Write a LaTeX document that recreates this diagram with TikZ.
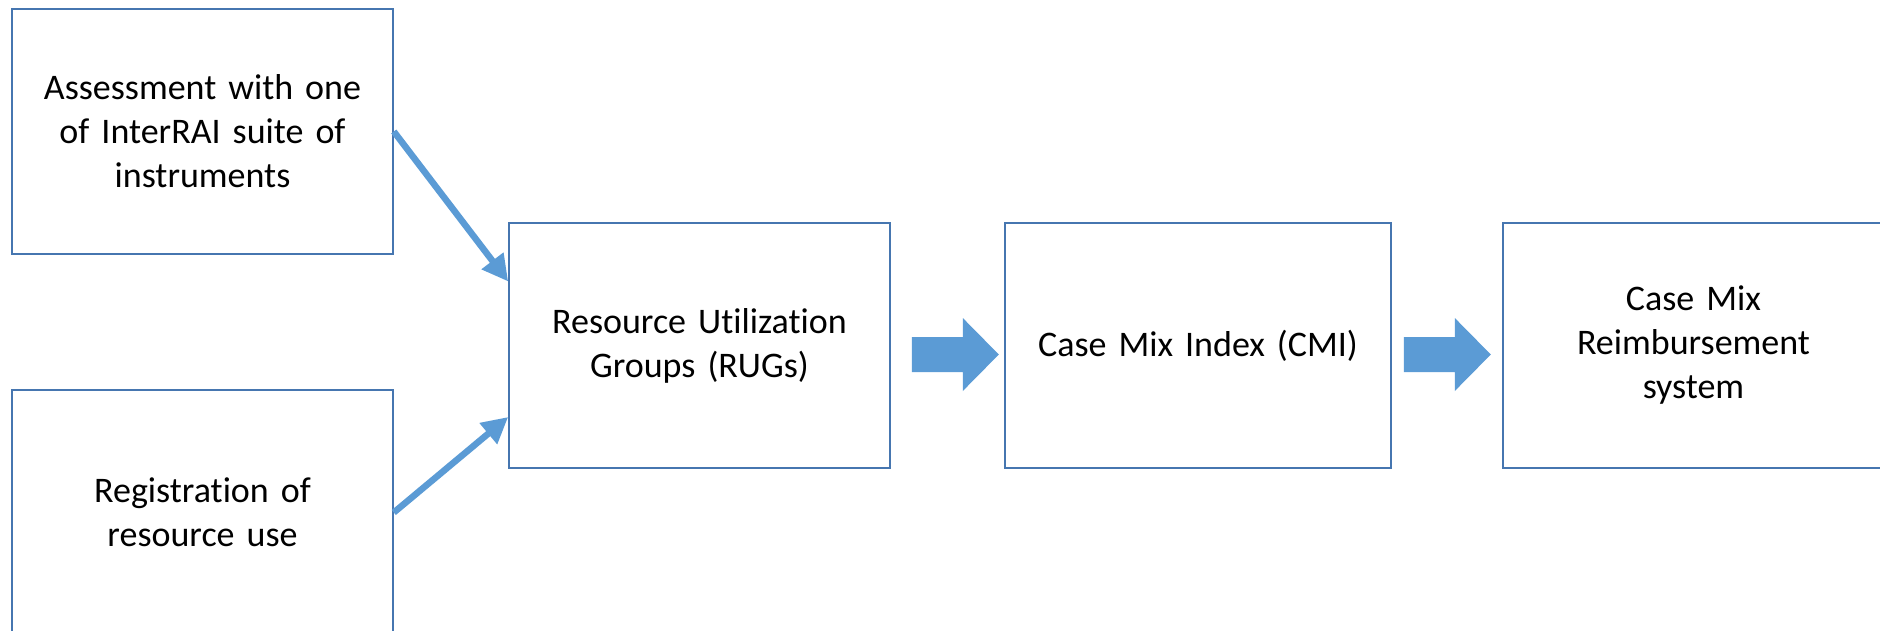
\documentclass[tikz,border=0pt]{standalone}
\usepackage{fontspec}
\setmainfont[RawFeature={-liga;-dlig;-clig}]{Carlito}
\usetikzlibrary{arrows.meta,calc}
\definecolor{boxline}{HTML}{4676B0}
\definecolor{arrowblue}{HTML}{5B9BD5}
\begin{document}
\begin{tikzpicture}[x=1pt,y=-1pt,
  box/.style={draw=boxline, line width=1.6pt, fill=white, minimum width=381pt, minimum height=245pt,
    inner sep=0pt, align=center, text width=360pt, font=\fontsize{36}{44}\selectfont},
  thinarrow/.style={draw=arrowblue, line width=6.5pt, -{Triangle[length=26pt,width=26pt]}},
  fatarrow/.style={fill=arrowblue, draw=none}
]
\useasboundingbox (0,0) rectangle (1880,630);
\clip (0,0) rectangle (1880,630);
\node[box] (A) at (202.5,131.5) {Assessment with one\\of InterRAI suite of\\instruments};
\node[box] (B) at (202.5,512.5) {Registration of\\resource use};
\node[box] (C) at (699.5,345.5) {Resource Utilization\\Groups (RUGs)};
\node[box, minimum width=386pt] (D) at (1198,345.5) {Case Mix Index (CMI)};
\node[box] (E) at (1693.5,345.5) {Case Mix\\Reimbursement\\system};
\draw[thinarrow] (A.east) -- ($(C.west)+(0,-64)$);
\draw[thinarrow] (B.east) -- ($(C.west)+(0,71.5)$);
\begin{scope}[shift={($(C.east)+(21,9)$)}]
  \fill[fatarrow] (0,-17.5) -- (51,-17.5) -- (51,-36.5) -- (87,0) -- (51,36.5) -- (51,17.5) -- (0,17.5) -- cycle;
\end{scope}
\begin{scope}[shift={($(D.east)+(12,9)$)}]
  \fill[fatarrow] (0,-17.5) -- (51,-17.5) -- (51,-36.5) -- (87,0) -- (51,36.5) -- (51,17.5) -- (0,17.5) -- cycle;
\end{scope}
\end{tikzpicture}
\end{document}
